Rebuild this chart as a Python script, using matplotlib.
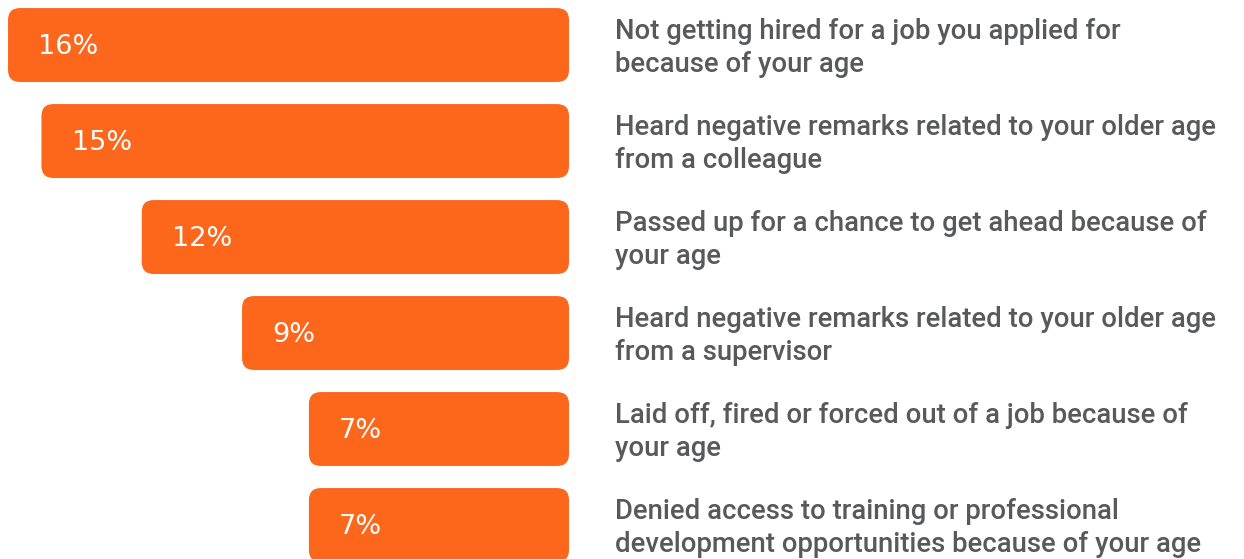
import matplotlib
matplotlib.use("Agg")
import matplotlib.pyplot as plt
from matplotlib.patches import FancyBboxPatch

# survey answers, top to bottom
labels = [
    "Not getting hired for a job you applied for\nbecause of your age",
    "Heard negative remarks related to your older age\nfrom a colleague",
    "Passed up for a chance to get ahead because of\nyour age",
    "Heard negative remarks related to your older age\nfrom a supervisor",
    "Laid off, fired or forced out of a job because of\nyour age",
    "Denied access to training or professional\ndevelopment opportunities because of your age",
]
values = [16, 15, 12, 9, 7, 7]

orange = "#FD671B"
grey = "#58595B"
base = 0.78  # bars have a little extra length beyond the value

fig = plt.figure(figsize=(12.44, 5.59), dpi=100)
ax = fig.add_axes([0, 0, 1, 1])
ax.set_xlim(-17.02, 20.19)
ax.set_ylim(5.354, -0.469)
ax.axis("off")

ypos = list(range(len(values)))
bars = ax.barh(ypos, [-(v + base) for v in values], height=0.77, color=orange)

# swap the plain rectangles for rounded ones
px_x = 1244 / (20.19 + 17.02)
px_y = 559 / (5.354 + 0.469)
for b in bars:
    x0, y0, w, h = b.get_x(), b.get_y(), b.get_width(), b.get_height()
    x_left = min(x0, x0 + w)
    box = FancyBboxPatch((x_left, y0), abs(w), h,
                         boxstyle="round,pad=0,rounding_size=0.36",
                         mutation_aspect=px_x / px_y,
                         facecolor=orange, edgecolor="none")
    ax.add_patch(box)
    b.set_visible(False)

for y, v, lab in zip(ypos, values, labels):
    ax.text(-(v + base) + 0.9, y + 0.02, f"{v}%", color="white", fontsize=19.5,
            va="center", ha="left", family="DejaVu Sans")
    ax.text(1.38, y + 0.03, lab, color=grey, fontsize=19.8, fontweight="medium",
            va="center", ha="left", linespacing=1.3,
            family=["Roboto", "DejaVu Sans"])

fig.savefig("out.png", dpi=100)
